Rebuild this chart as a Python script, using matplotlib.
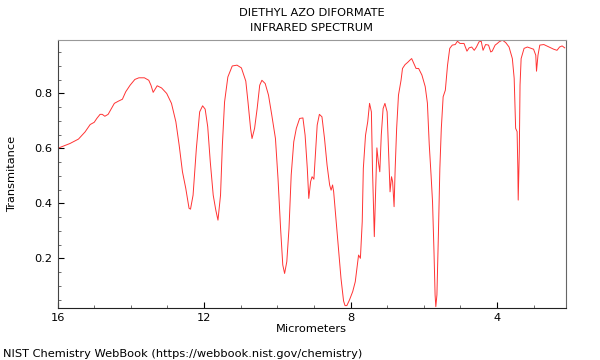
import matplotlib
matplotlib.use("Agg")
import matplotlib.pyplot as plt
from matplotlib.ticker import MultipleLocator

# wavelength (micrometers) and transmittance
wavelength = [16.0, 15.89, 15.66, 15.43, 15.25, 15.11, 15.00, 14.93, 14.84, 14.78,
              14.71, 14.62, 14.54, 14.45, 14.34, 14.23, 14.14, 14.02, 13.89, 13.78,
              13.63, 13.51, 13.45, 13.39, 13.28, 13.16, 13.02, 12.89, 12.77, 12.68,
              12.59, 12.50, 12.41, 12.37, 12.30, 12.21, 12.12, 12.04, 11.97, 11.90,
              11.83, 11.75, 11.68, 11.62, 11.55, 11.50, 11.44, 11.35, 11.23, 11.10,
              10.98, 10.86, 10.80, 10.73, 10.69, 10.62, 10.55, 10.48, 10.42, 10.33,
              10.24, 10.15, 10.05, 9.98, 9.91, 9.85, 9.80, 9.74, 9.68, 9.62,
              9.55, 9.48, 9.39, 9.30, 9.24, 9.18, 9.14, 9.09, 9.05, 9.00,
              8.96, 8.91, 8.85, 8.78, 8.71, 8.64, 8.57, 8.53, 8.49, 8.46,
              8.39, 8.33, 8.26, 8.19, 8.15, 8.10, 8.03, 7.94, 7.87, 7.80,
              7.78, 7.73, 7.68, 7.65, 7.59, 7.53, 7.48, 7.43, 7.40, 7.35,
              7.30, 7.28, 7.24, 7.20, 7.16, 7.11, 7.06, 7.00, 6.96, 6.92,
              6.88, 6.85, 6.81, 6.78, 6.74, 6.69, 6.62, 6.58, 6.51, 6.44,
              6.38, 6.33, 6.29, 6.21, 6.14, 6.05, 5.96, 5.90, 5.85, 5.80,
              5.76, 5.72, 5.69, 5.67, 5.64, 5.60, 5.56, 5.52, 5.47, 5.41,
              5.35, 5.29, 5.22, 5.14, 5.08, 5.01, 4.90, 4.82, 4.76, 4.69,
              4.62, 4.56, 4.49, 4.43, 4.38, 4.31, 4.23, 4.17, 4.13, 4.05,
              3.99, 3.94, 3.85, 3.76, 3.67, 3.58, 3.53, 3.49, 3.45, 3.43,
              3.42, 3.39, 3.37, 3.34, 3.26, 3.17, 3.06, 3.00, 2.94, 2.92,
              2.88, 2.83, 2.72, 2.58, 2.45, 2.36, 2.29, 2.22, 2.15]
transmittance = [0.600, 0.606, 0.618, 0.634, 0.660, 0.687, 0.695, 0.709, 0.724, 0.724,
                 0.717, 0.724, 0.743, 0.764, 0.772, 0.779, 0.806, 0.830, 0.851, 0.857,
                 0.857, 0.848, 0.830, 0.804, 0.828, 0.820, 0.800, 0.764, 0.697, 0.612,
                 0.515, 0.455, 0.382, 0.379, 0.430, 0.600, 0.733, 0.755, 0.743, 0.679,
                 0.551, 0.430, 0.376, 0.339, 0.430, 0.612, 0.769, 0.860, 0.900, 0.903,
                 0.893, 0.845, 0.769, 0.673, 0.636, 0.673, 0.745, 0.830, 0.848, 0.836,
                 0.794, 0.721, 0.636, 0.490, 0.309, 0.176, 0.145, 0.188, 0.309, 0.503,
                 0.624, 0.673, 0.709, 0.711, 0.648, 0.527, 0.418, 0.479, 0.497, 0.488,
                 0.576, 0.685, 0.724, 0.715, 0.636, 0.539, 0.467, 0.448, 0.467, 0.442,
                 0.333, 0.236, 0.127, 0.045, 0.028, 0.028, 0.048, 0.079, 0.115, 0.188,
                 0.212, 0.200, 0.333, 0.527, 0.648, 0.697, 0.764, 0.733, 0.527, 0.279,
                 0.503, 0.602, 0.551, 0.515, 0.648, 0.745, 0.764, 0.733, 0.588, 0.442,
                 0.497, 0.479, 0.388, 0.527, 0.673, 0.794, 0.848, 0.891, 0.905, 0.913,
                 0.921, 0.927, 0.915, 0.891, 0.891, 0.867, 0.825, 0.765, 0.615, 0.503,
                 0.406, 0.224, 0.067, 0.024, 0.067, 0.285, 0.527, 0.673, 0.788, 0.812,
                 0.903, 0.964, 0.976, 0.978, 0.990, 0.982, 0.982, 0.954, 0.966, 0.969,
                 0.957, 0.969, 0.988, 0.990, 0.957, 0.978, 0.976, 0.951, 0.954, 0.976,
                 0.982, 0.988, 0.994, 0.985, 0.969, 0.927, 0.855, 0.673, 0.661, 0.527,
                 0.412, 0.588, 0.830, 0.927, 0.964, 0.969, 0.964, 0.961, 0.939, 0.881,
                 0.939, 0.976, 0.978, 0.969, 0.961, 0.957, 0.969, 0.973, 0.966]

fig = plt.figure(figsize=(6, 3.6), dpi=100)
ax = fig.add_axes([0.096, 0.145, 0.847, 0.745])

ax.plot(wavelength, transmittance, color='#ff3333', lw=0.7)

ax.set_xlim(16, 2.12)
ax.set_ylim(0.02, 0.996)
ax.xaxis.set_major_locator(MultipleLocator(4))
ax.xaxis.set_minor_locator(MultipleLocator(1))
ax.yaxis.set_major_locator(MultipleLocator(0.2))
ax.yaxis.set_minor_locator(MultipleLocator(0.05))
ax.tick_params(which='both', direction='in', labelsize=8.2)
ax.tick_params(which='major', length=4)
ax.tick_params(which='minor', length=2.5, color='#555555')

ax.spines['top'].set_color('#999999')
ax.spines['right'].set_color('#666666')
ax.spines['left'].set_color('#444444')
ax.spines['bottom'].set_color('#222222')

ax.set_xlabel('Micrometers', fontsize=8.2, labelpad=1)
ax.set_ylabel('Transmitance', fontsize=8.2)
ax.yaxis.set_label_coords(-0.08, 0.5)
ax.set_title('DIETHYL AZO DIFORMATE\nINFRARED SPECTRUM', fontsize=8.2, pad=6,
             linespacing=1.7)

fig.text(0.005, 0.008, 'NIST Chemistry WebBook (https://webbook.nist.gov/chemistry)',
         fontsize=8.2)

fig.savefig('out.png', dpi=100)
